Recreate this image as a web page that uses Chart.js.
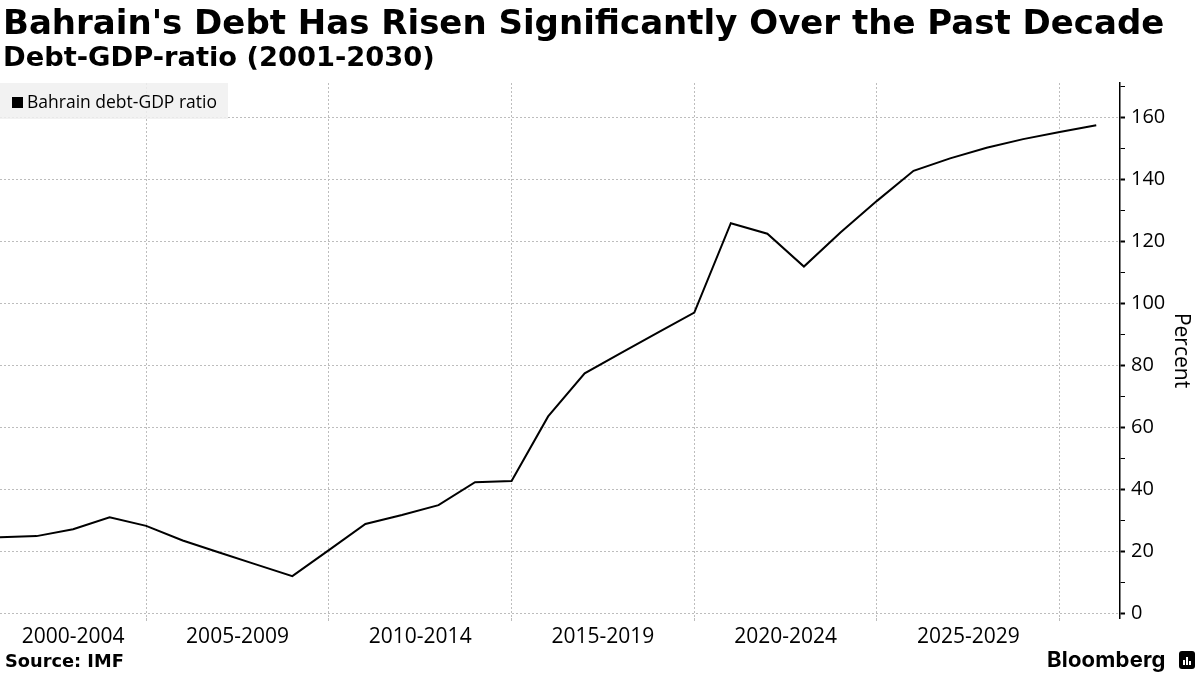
<!DOCTYPE html>
<html>
<head>
<meta charset="utf-8">
<script src="https://cdn.jsdelivr.net/npm/chart.js@4.4.0/dist/chart.umd.min.js"></script>
<style>
  html, body { margin: 0; padding: 0; background: #fff; }
  #wrap { position: relative; width: 1200px; height: 675px; overflow: hidden; }
  #chart { position: absolute; left: 0; top: 0; }
  .head { position: absolute; left: 3px; font-family: "DejaVu Sans", sans-serif;
          font-weight: bold; color: #000; white-space: nowrap; }
  #title { top: 2px; font-size: 34px; }
  #subtitle { top: 41px; font-size: 27.3px; }
  #legend { position: absolute; left: 0; top: 83px; width: 228px; height: 36px;
            background: rgba(240, 240, 240, 0.85); font: 17.5px "Open Sans", sans-serif; }
  #legend .sw { position: absolute; left: 12px; top: 14px; width: 11px; height: 11px; background: #000; }
  #legend .tx { position: absolute; left: 27px; top: 6px; }
  #source { position: absolute; left: 5px; top: 650px; font-family: "DejaVu Sans", sans-serif;
            font-weight: bold; font-size: 17.8px; }
  #brand { position: absolute; left: 1047px; top: 646px; font: 700 22px Inter, sans-serif; letter-spacing: 0.2px; }
  #logo { position: absolute; left: 1179px; top: 651px; width: 16px; height: 18px; background: #000; border-radius: 3px; }
  #logo i { position: absolute; bottom: 4px; width: 2px; background: #fff; }
</style>
</head>
<body>
<div id="wrap">
  <canvas id="chart" width="1200" height="675"></canvas>
  <div id="title" class="head">Bahrain's Debt Has Risen Significantly Over the Past Decade</div>
  <div id="subtitle" class="head">Debt-GDP-ratio (2001-2030)</div>
  <div id="legend"><span class="sw"></span><span class="tx">Bahrain debt-GDP ratio</span></div>
  <div id="source">Source: IMF</div>
  <div id="brand">Bloomberg</div>
  <div id="logo"><i style="left:4px;height:5px"></i><i style="left:7px;height:8px"></i><i style="left:10px;height:4px"></i></div>
</div>
<script>
// valeurs (fin d'annee)
const years = [2000, 2001, 2002, 2003, 2004, 2005, 2006, 2007, 2008, 2009,
               2010, 2011, 2012, 2013, 2014, 2015, 2016, 2017, 2018, 2019,
               2020, 2021, 2022, 2023, 2024, 2025, 2026, 2027, 2028, 2029, 2030];
const debtRatio = [24.5, 24.9, 27.1, 31.0, 28.2, 23.5, 19.6, 15.8, 12.0, 20.4,
                   28.8, 31.7, 34.9, 42.3, 42.7, 63.5, 77.4, 84.0, 90.5, 97.0,
                   125.8, 122.4, 111.8, 122.8, 133.0, 142.7, 146.7, 150.1, 152.9, 155.2, 157.4];
const binLabels = ['2000-2004', '2005-2009', '2010-2014', '2015-2019', '2020-2024', '2025-2029'];
const binStarts = [2000, 2005, 2010, 2015, 2020, 2025];
const yTickValues = [0, 10, 20, 30, 40, 50, 60, 70, 80, 90, 100, 110, 120, 130, 140, 150, 160, 170];

const X_MIN = 2001, X_MAX = 2031.65;
const gridBounds = [2005, 2010, 2015, 2020, 2025, 2030];

// centre des etiquettes sur la partie visible de chaque tranche
const labelAt = {};
binStarts.forEach((s, i) => {
    const a = Math.max(s, X_MIN), b = Math.min(s + 5, X_MAX);
    labelAt[((a + b) / 2).toFixed(2)] = binLabels[i];
});
const isBound = v => gridBounds.some(g => Math.abs(g - v) < 1e-6);

const gridGrey = '#bdbdbd';

new Chart(document.getElementById('chart'), {
    type: 'line',
    data: {
        datasets: [{
            label: 'Bahrain debt-GDP ratio',
            data: years.map((yr, i) => ({ x: yr + 1, y: debtRatio[i] })),
            borderColor: '#000',
            borderWidth: 2,
            pointRadius: 0,
            tension: 0,
            fill: false
        }]
    },
    options: {
        responsive: false,
        animation: false,
        layout: { padding: { top: 83, left: 0, right: 0, bottom: 0 } },
        plugins: { legend: { display: false }, tooltip: { enabled: false } },
        scales: {
            x: {
                type: 'linear',
                min: X_MIN,
                max: X_MAX,
                afterBuildTicks: s => {
                    const vals = gridBounds.concat(Object.keys(labelAt).map(Number));
                    s.ticks = vals.sort((a, b) => a - b).map(v => ({ value: v }));
                },
                afterFit: s => { s.height = 57; },
                border: { display: false, dash: [2, 2] },
                grid: {
                    color: c => (c.tick && isBound(c.tick.value)) ? gridGrey : 'transparent',
                    tickColor: c => (c.tick && isBound(c.tick.value)) ? gridGrey : 'transparent',
                    tickLength: 3
                },
                ticks: {
                    autoSkip: false,
                    maxRotation: 0,
                    padding: 3,
                    color: '#000',
                    font: { family: 'Open Sans', size: 21 },
                    callback: v => labelAt[Number(v).toFixed(2)] || ''
                }
            },
            y: {
                position: 'right',
                min: -1.5,
                max: 171,
                afterBuildTicks: s => { s.ticks = yTickValues.map(v => ({ value: v })); },
                afterFit: s => { s.width = 80; },
                border: { display: true, color: '#000', width: 1.5, dash: [2, 2] },
                grid: {
                    color: c => (c.tick && c.tick.value % 20 === 0) ? gridGrey : 'transparent',
                    tickColor: '#000',
                    tickLength: 5,
                    tickWidth: c => (c.tick && c.tick.value % 20 === 0) ? 2 : 1,
                    tickBorderDash: []
                },
                ticks: {
                    padding: 6,
                    color: '#000',
                    font: { family: 'Open Sans', size: 20 },
                    callback: v => (v % 20 === 0 ? String(v) : '')
                },
                title: {
                    display: true,
                    text: 'Percent',
                    color: '#000',
                    font: { family: 'Open Sans', size: 21 },
                    padding: { top: 6, bottom: 0 }
                }
            }
        }
    }
});
</script>
</body>
</html>
